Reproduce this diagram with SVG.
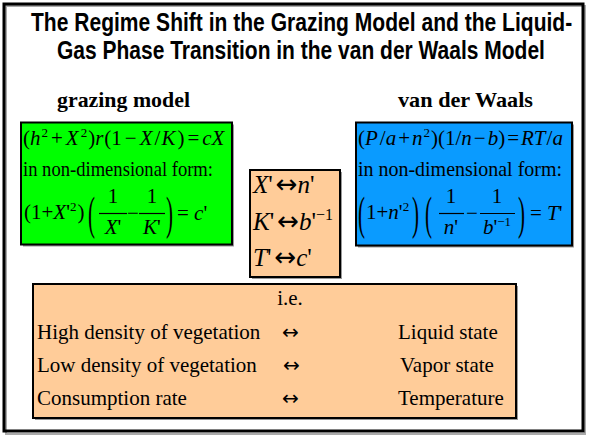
<svg xmlns="http://www.w3.org/2000/svg" width="589" height="437" viewBox="0 0 589 437">
<style>
.title{font-family:"Liberation Sans",Arial,sans-serif;font-weight:bold;font-size:25px;fill:#000}
.hdr{font-family:"Liberation Serif","Times New Roman",serif;font-weight:bold;font-size:22px;fill:#000}
.m{font-family:"Liberation Serif","Times New Roman",serif;font-size:21px;fill:#000}
.mid{font-family:"Liberation Serif","Times New Roman",serif;font-size:25px;fill:#000}
.b{font-family:"Liberation Serif","Times New Roman",serif;font-size:21px;fill:#000}
.arrm{font-family:"DejaVu Sans","Liberation Sans",sans-serif;font-style:normal;font-size:26px}
.arrb{font-family:"DejaVu Sans","Liberation Sans",sans-serif;font-size:20px;fill:#000}
.i{font-style:italic}
.sup{font-size:13px}
.supm{font-size:16px}
.box{stroke:#000;stroke-width:2}
.shadow{fill:#999;stroke:none}
.bar{stroke:#000;stroke-width:1.2}
</style>
<rect x="0" y="0" width="589" height="437" fill="#fff"/>
<g id="frame">
<rect x="6" y="6" width="579" height="428" fill="none" stroke="#aaa" stroke-width="2"/>
<rect x="4" y="4" width="579" height="427" fill="none" stroke="#000" stroke-width="3"/>
</g>
<g id="title">
<text class="title" transform="matrix(0.82 0 0 1 31 31)" x="0" y="0" textLength="660" lengthAdjust="spacingAndGlyphs">The Regime Shift in the Grazing Model and the Liquid-</text>
<text class="title" transform="matrix(0.82 0 0 1 57 59)" x="0" y="0" textLength="595" lengthAdjust="spacingAndGlyphs">Gas Phase Transition in the van der Waals Model</text>
</g>
<g id="header-grazing"><text class="hdr" x="57" y="107" textLength="133" lengthAdjust="spacingAndGlyphs">grazing model</text></g>
<g id="header-vdw"><text class="hdr" x="398" y="107" textLength="135" lengthAdjust="spacingAndGlyphs">van der Waals</text></g>

<g id="grazing-box">
<rect class="shadow" x="23" y="124.5" width="211" height="122"/>
<rect class="box" x="21" y="122.5" width="211" height="122" fill="#00FF00"/>
<text class="m" x="23" y="145">(<tspan class="i">h</tspan><tspan class="sup" dy="-8" dx="1">2</tspan><tspan dy="8" dx="3">+</tspan><tspan class="i" dx="3">X</tspan><tspan class="sup" dy="-8" dx="2">2</tspan><tspan dy="8" dx="1">)</tspan><tspan class="i">r</tspan><tspan dx="1">(1</tspan><tspan dx="3">−</tspan><tspan class="i" dx="3">X</tspan><tspan dx="2">/</tspan><tspan class="i" dx="1">K</tspan><tspan dx="2">)</tspan><tspan dx="3">=</tspan><tspan class="i" dx="3">cX</tspan></text>
<text class="m" x="23" y="176" textLength="190" lengthAdjust="spacingAndGlyphs">in non-dimensional form:</text>
<text class="m" x="24" y="219">(1+<tspan class="i">X</tspan>'<tspan class="sup" dy="-8">2</tspan><tspan dy="8" dx="1">)</tspan></text>
<text class="m" transform="matrix(1 0 0 2.2 88 229)" x="0" y="0">(</text>
<text class="m" x="113" y="203" text-anchor="middle">1</text>
<line class="bar" x1="99" y1="213.5" x2="127" y2="213.5"/>
<text class="m" x="113" y="234" text-anchor="middle"><tspan class="i">X</tspan>'</text>
<text class="m" x="133" y="220" text-anchor="middle">−</text>
<text class="m" x="152" y="203" text-anchor="middle">1</text>
<line class="bar" x1="139" y1="213.5" x2="165" y2="213.5"/>
<text class="m" x="152" y="234" text-anchor="middle"><tspan class="i">K</tspan>'</text>
<text class="m" transform="matrix(1 0 0 2.2 166 229)" x="0" y="0">)</text>
<text class="m" x="177" y="220">= <tspan class="i">c</tspan>'</text>
</g>

<g id="mapping-box">
<rect class="shadow" x="252" y="172" width="90" height="107"/>
<rect class="box" x="250" y="170" width="90" height="107" fill="#FFCC99"/>
<text class="mid" x="253" y="193"><tspan class="i">X</tspan>'<tspan class="arrm" dx="3">↔</tspan><tspan class="i">n</tspan>'</text>
<text class="mid" x="253" y="230"><tspan class="i">K</tspan>'<tspan class="arrm" dx="3">↔</tspan><tspan class="i">b</tspan>'<tspan class="supm" dy="-10">−1</tspan></text>
<text class="mid" x="253" y="266"><tspan class="i">T</tspan>'<tspan class="arrm" dx="3">↔</tspan><tspan class="i">c</tspan>'</text>
</g>

<g id="vdw-box">
<rect class="shadow" x="358" y="124.5" width="216" height="123"/>
<rect class="box" x="356" y="122.5" width="216" height="123" fill="#0A9BFF"/>
<text class="m" x="358" y="145">(<tspan class="i">P</tspan><tspan dx="2">/</tspan><tspan class="i">a</tspan><tspan dx="2">+</tspan><tspan class="i" dx="2">n</tspan><tspan class="sup" dy="-8" dx="1">2</tspan><tspan dy="8" dx="1">)(1/</tspan><tspan class="i">n</tspan><tspan dx="2">−</tspan><tspan class="i" dx="2">b</tspan><tspan>)</tspan><tspan dx="2">=</tspan><tspan class="i" dx="2">RT</tspan><tspan dx="1">/</tspan><tspan class="i">a</tspan></text>
<text class="m" x="358" y="176" textLength="204" lengthAdjust="spacingAndGlyphs">in non-dimensional form:</text>
<text class="m" transform="matrix(1 0 0 2.2 358 229)" x="0" y="0">(</text>
<text class="m" x="366" y="219">1+<tspan class="i">n</tspan>'<tspan class="sup" dy="-8">2</tspan></text>
<text class="m" transform="matrix(1 0 0 2.2 412 229)" x="0" y="0">)</text>
<text class="m" transform="matrix(1 0 0 2.2 425 229)" x="0" y="0">(</text>
<text class="m" x="451" y="203" text-anchor="middle">1</text>
<line class="bar" x1="439" y1="213.5" x2="464" y2="213.5"/>
<text class="m" x="451" y="234" text-anchor="middle"><tspan class="i">n</tspan>'</text>
<text class="m" x="472" y="220" text-anchor="middle">−</text>
<text class="m" x="497" y="203" text-anchor="middle">1</text>
<line class="bar" x1="480" y1="213.5" x2="515" y2="213.5"/>
<text class="m" x="497" y="234" text-anchor="middle"><tspan class="i">b</tspan>'<tspan class="sup" dy="-8">−1</tspan></text>
<text class="m" transform="matrix(1 0 0 2.2 518 229)" x="0" y="0">)</text>
<text class="m" x="530" y="220">= <tspan class="i">T</tspan>'</text>
</g>

<g id="summary-box">
<rect class="shadow" x="35" y="286" width="483" height="134"/>
<rect class="box" x="33" y="284" width="483" height="134" fill="#FFCC99"/>
<text class="b" x="290" y="305" text-anchor="middle">i.e.</text>
<text class="b" x="37" y="339">High density of vegetation</text>
<text class="arrb" x="282" y="339">↔</text>
<text class="b" x="398" y="339">Liquid state</text>
<text class="b" x="37" y="372">Low density of vegetation</text>
<text class="arrb" x="283" y="372">↔</text>
<text class="b" x="400" y="372">Vapor state</text>
<text class="b" x="37" y="405">Consumption rate</text>
<text class="arrb" x="282" y="405">↔</text>
<text class="b" x="398" y="405">Temperature</text>
</g>
</svg>
